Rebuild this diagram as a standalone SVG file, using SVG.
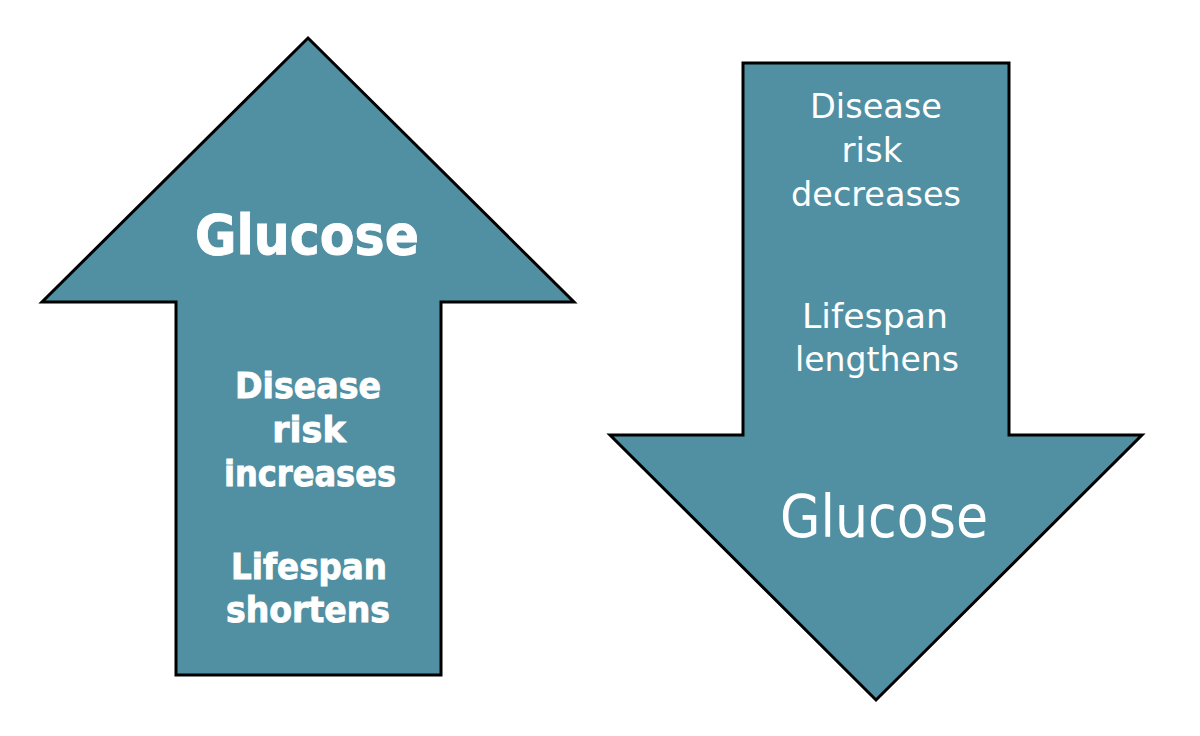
<svg xmlns="http://www.w3.org/2000/svg" width="1200" height="736" viewBox="0 0 1200 736">
<style>
.arrow{fill:#5190a3;stroke:#000;stroke-width:3;stroke-linejoin:miter}
.b{font-family:"DejaVu Sans","Liberation Sans",sans-serif;font-weight:bold;fill:#fff;stroke:#fff;stroke-width:0.9;text-anchor:middle}
.n{font-family:"DejaVu Sans","Liberation Sans",sans-serif;font-weight:normal;fill:#fff;text-anchor:middle}
</style>
<rect width="1200" height="736" fill="#fff"/>
<g id="up-arrow">
<polygon class="arrow" points="308,38 574,302 441,302 441,675 176,675 176,302 42,302"/>
<text class="b" x="307" y="254" font-size="55" textLength="224" lengthAdjust="spacingAndGlyphs">Glucose</text>
<text class="b" x="308" y="398" font-size="35" textLength="146" lengthAdjust="spacingAndGlyphs">Disease</text>
<text class="b" x="309" y="442" font-size="35">risk</text>
<text class="b" x="310" y="486" font-size="35" textLength="172" lengthAdjust="spacingAndGlyphs">increases</text>
<text class="b" x="309" y="579" font-size="35" textLength="156" lengthAdjust="spacingAndGlyphs">Lifespan</text>
<text class="b" x="308" y="622" font-size="35" textLength="164" lengthAdjust="spacingAndGlyphs">shortens</text>
</g>
<g id="down-arrow">
<polygon class="arrow" points="743,63 1009,63 1009,435 1142,435 876,700 610,435 743,435"/>
<text class="n" x="876" y="118" font-size="34" textLength="132" lengthAdjust="spacingAndGlyphs">Disease</text>
<text class="n" x="872" y="162" font-size="34">risk</text>
<text class="n" x="876" y="206" font-size="34" textLength="170" lengthAdjust="spacingAndGlyphs">decreases</text>
<text class="n" x="875" y="328" font-size="34" textLength="146" lengthAdjust="spacingAndGlyphs">Lifespan</text>
<text class="n" x="877" y="371" font-size="34" textLength="164" lengthAdjust="spacingAndGlyphs">lengthens</text>
<text class="n" x="884" y="537" font-size="58" textLength="208" lengthAdjust="spacingAndGlyphs">Glucose</text>
</g>
</svg>
